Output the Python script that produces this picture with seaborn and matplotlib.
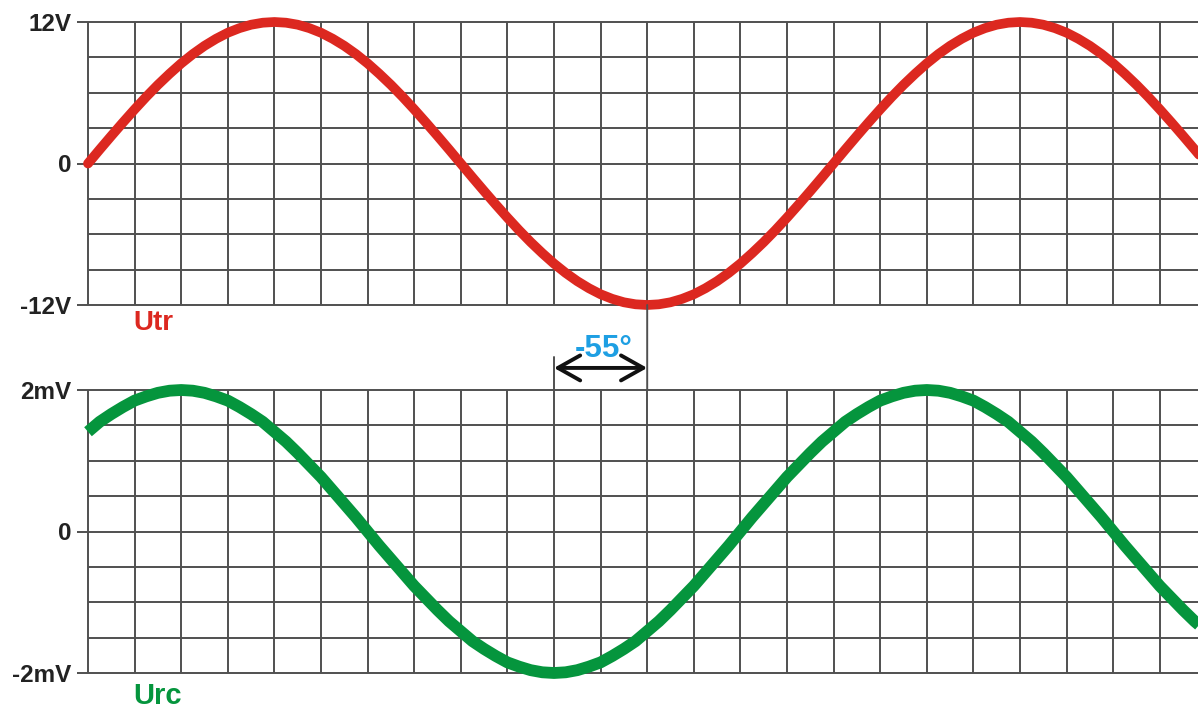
import numpy as np
import pandas as pd
import matplotlib
matplotlib.use("Agg")
import matplotlib.pyplot as plt
import seaborn as sns
from matplotlib.transforms import blended_transform_factory
from matplotlib.patches import ConnectionPatch

# Sample positions in grid divisions (one division = 22.5 degrees)
t_div = np.arange(0, 24.001, 0.25)

# Transformer voltage Utr (V), sampled every quarter division
u_tr = [0, 1.18, 2.34, 3.48, 4.59, 5.66, 6.67, 7.61, 8.49, 9.28, 9.98, 10.58, 11.09, 11.48, 11.77, 11.94, 12,
        11.94, 11.77, 11.48, 11.09, 10.58, 9.98, 9.28, 8.49, 7.61, 6.67, 5.66, 4.59, 3.48, 2.34, 1.18, 0,
        -1.18, -2.34, -3.48, -4.59, -5.66, -6.67, -7.61, -8.49, -9.28, -9.98, -10.58, -11.09, -11.48, -11.77, -11.94, -12,
        -11.94, -11.77, -11.48, -11.09, -10.58, -9.98, -9.28, -8.49, -7.61, -6.67, -5.66, -4.59, -3.48, -2.34, -1.18, 0,
        1.18, 2.34, 3.48, 4.59, 5.66, 6.67, 7.61, 8.49, 9.28, 9.98, 10.58, 11.09, 11.48, 11.77, 11.94, 12,
        11.94, 11.77, 11.48, 11.09, 10.58, 9.98, 9.28, 8.49, 7.61, 6.67, 5.66, 4.59, 3.48, 2.34, 1.18, 0]

# RC-filter voltage Urc (mV), sampled every quarter division
u_rc = [1.41, 1.55, 1.66, 1.76, 1.85, 1.91, 1.96, 1.99, 2.00,
        1.99, 1.96, 1.91, 1.85, 1.76, 1.66, 1.55, 1.41, 1.27, 1.11, 0.94, 0.77, 0.58, 0.39, 0.20, 0,
        -0.20, -0.39, -0.58, -0.77, -0.94, -1.11, -1.27, -1.41, -1.55, -1.66, -1.76, -1.85, -1.91, -1.96, -1.99, -2.00,
        -1.99, -1.96, -1.91, -1.85, -1.76, -1.66, -1.55, -1.41, -1.27, -1.11, -0.94, -0.77, -0.58, -0.39, -0.20, 0,
        0.20, 0.39, 0.58, 0.77, 0.94, 1.11, 1.27, 1.41, 1.55, 1.66, 1.76, 1.85, 1.91, 1.96, 1.99, 2.00,
        1.99, 1.96, 1.91, 1.85, 1.76, 1.66, 1.55, 1.41, 1.27, 1.11, 0.94, 0.77, 0.58, 0.39, 0.20, 0,
        -0.20, -0.39, -0.58, -0.77, -0.94, -1.11, -1.27, -1.41]

top_ticks = [-12, 0, 12]
top_labels = ["-12V", "0", "12V"]
bottom_ticks = [-2, 0, 2]
bottom_labels = ["-2mV", "0", "2mV"]
phase_label = "-55°"

RED = "#dc2820"
GREEN = "#05953d"
BLUE = "#1e9fe3"
GRID = "#505050"
TEXT = "#222222"

sns.set_theme(style="white")
plt.rcParams["font.family"] = ["Liberation Sans", "DejaVu Sans"]

W, H = 1198, 708
fig = plt.figure(figsize=(W / 100, H / 100), dpi=100)
ax1 = fig.add_axes([88 / W, (H - 305) / H, 1110 / W, 283 / H])
ax2 = fig.add_axes([88 / W, (H - 673) / H, 1110 / W, 283 / H])

X_MAX = 23.82


def draw_grid(ax, vmax, step, ticks, labels):
    ax.set_xlim(0, X_MAX)
    ax.set_ylim(-vmax, vmax)
    levels = np.arange(-vmax, vmax + step / 2, step)
    ax.hlines(levels, 0, X_MAX, color=GRID, lw=1.4, clip_on=False, zorder=1)
    ax.vlines(np.arange(0, 24), -vmax, vmax, color=GRID, lw=1.4,
              clip_on=False, zorder=1)
    ax.set_xticks([])
    ax.set_yticks(ticks)
    ax.set_yticklabels(labels)
    ax.tick_params(axis="y", left=True, length=8, width=1.4, color=GRID,
                   pad=4, labelsize=17.5, labelcolor=TEXT)
    for lbl in ax.get_yticklabels():
        lbl.set_fontweight("bold")
    for s in ax.spines.values():
        s.set_visible(False)
    ax.set_xlabel("")
    ax.set_ylabel("")
    ax.set_facecolor("none")


df_tr = pd.DataFrame({"t": t_div, "u": u_tr})
df_rc = pd.DataFrame({"t": t_div, "u": u_rc})

sns.lineplot(data=df_tr, x="t", y="u", ax=ax1, color=RED, lw=7,
             estimator=None, sort=False, zorder=3)
sns.lineplot(data=df_rc, x="t", y="u", ax=ax2, color=GREEN, lw=8.5,
             estimator=None, sort=False, zorder=3)
for ax in (ax1, ax2):
    for ln in ax.lines:
        ln.set_clip_on(False)
        ln.set_solid_joinstyle("round")
ax1.lines[0].set_solid_capstyle("round")
ax2.lines[0].set_solid_capstyle("butt")

draw_grid(ax1, 12, 3, top_ticks, top_labels)
draw_grid(ax2, 2, 0.5, bottom_ticks, bottom_labels)

# Signal names under each trace
ax1.text(0.97, -0.062, "Utr", transform=blended_transform_factory(ax1.transData, ax1.transAxes),
         color=RED, fontsize=20, fontweight="bold", ha="left", va="center")
ax2.text(0.97, -0.08, "Urc", transform=blended_transform_factory(ax2.transData, ax2.transAxes),
         color=GREEN, fontsize=21, fontweight="bold", ha="left", va="center")

# Phase shift marker between the minima of the two traces
bt = blended_transform_factory(ax2.transData, ax2.transAxes)
con = ConnectionPatch(xyA=(12, -12), coordsA=ax1.transData,
                      xyB=(12, 2), coordsB=ax2.transData,
                      color=GRID, lw=1.4, zorder=1)
fig.add_artist(con)
ax2.plot([10, 10], [1.0, 1.117], transform=bt, color=GRID, lw=1.4, clip_on=False, zorder=1)
ax2.annotate("", xy=(10, 1.078), xytext=(12, 1.078), xycoords=bt, textcoords=bt,
             arrowprops=dict(arrowstyle="<->,head_length=1.6,head_width=0.9",
                             mutation_scale=10, color="#111111", lw=2.8,
                             shrinkA=0, shrinkB=0), annotation_clip=False)
ax2.text(11.07, 1.145, phase_label, transform=bt, color=BLUE, fontsize=22.5,
         fontweight="bold", ha="center", va="center")

fig.savefig("out.png", dpi=100, facecolor="white")
